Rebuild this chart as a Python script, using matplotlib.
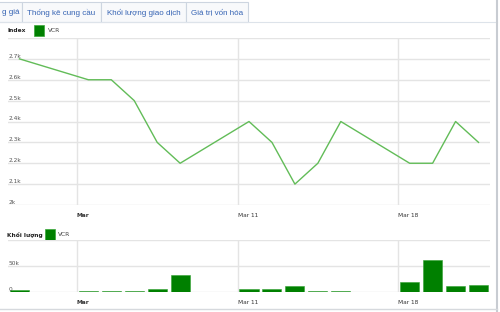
import matplotlib
matplotlib.use('Agg')
import matplotlib.pyplot as plt
from matplotlib.patches import Rectangle

# trading days in March (day of month) and VCR values
days = [1, 4, 5, 6, 7, 8, 11, 12, 13, 14, 15, 18, 19, 20, 21]
index_vals = [2700, 2600, 2600, 2500, 2300, 2200, 2400, 2300, 2100, 2200, 2400, 2200, 2200, 2400, 2300]
volume_vals = [4000, 2500, 1000, 2000, 6000, 33000, 5000, 6000, 11000, 1000, 1000, 19000, 61000, 11000, 13000]

index_ticks = [2000, 2100, 2200, 2300, 2400, 2500, 2600, 2700, 2800]
index_labels = ['2k', '2.1k', '2.2k', '2.3k', '2.4k', '2.5k', '2.6k', '2.7k', '']
vol_ticks = [0, 50000, 100000]
vol_labels = ['0', '50k', '']
week_ticks = [4, 11, 18]
week_labels = ['Mar', 'Mar 11', 'Mar 18']
tabs = ['g giá', 'Thống kê cung cầu', 'Khối lượng giao dịch', 'Giá trị vốn hóa']

W, H = 500, 312
fig = plt.figure(figsize=(5, 3.12), dpi=100)
fig.patch.set_facecolor('white')

# background layer in pixel coords (tabs, legends, frame)
bg = fig.add_axes([0, 0, 1, 1])
bg.set_xlim(0, W)
bg.set_ylim(H, 0)
bg.axis('off')

tab_edges = [-5, 22, 101, 186, 248]
for i, t in enumerate(tabs):
    x0, x1 = tab_edges[i], tab_edges[i + 1]
    bg.add_patch(Rectangle((x0, 2), x1 - x0, 20, facecolor='#f8f9fb', edgecolor='#cdd5e0', lw=0.8))
    if i == 0:
        bg.text(x1 - 3, 12.5, t, ha='right', va='center', fontsize=5.8, color='#3563b3', family='Liberation Sans')
    else:
        bg.text((x0 + x1) / 2, 12.5, t, ha='center', va='center', fontsize=5.8, color='#3563b3', family='Liberation Sans')
bg.plot([0, 497], [22, 22], color='#dde3ea', lw=0.8)
bg.plot([497, 497], [0, H], color='#c8ccd2', lw=1.5)
bg.plot([0, 497], [309, 309], color='#d6d9dd', lw=1.0)

# legends
bg.text(7, 31, 'Index', fontsize=4.2, fontweight='bold', color='#222', va='center')
bg.add_patch(Rectangle((34, 25), 10, 11, facecolor='#008000', edgecolor='#3aa83a', lw=0.5))
bg.text(48, 31, 'VCR', fontsize=4.2, color='#444', va='center')
bg.text(7, 235, 'Khối lượng', fontsize=4.2, fontweight='bold', color='#222', va='center')
bg.add_patch(Rectangle((45, 229), 10, 11, facecolor='#008000', edgecolor='#3aa83a', lw=0.5))
bg.text(58, 235, 'VCR', fontsize=4.2, color='#444', va='center')

grid_c = '#e4e4e4'
x_line = [d + 0.5 for d in days]


def style_axes(ax, yticks, ylabels, ylim):
    ax.set_xlim(1, 22)
    ax.set_ylim(*ylim)
    ax.set_facecolor('none')
    for s in ax.spines.values():
        s.set_visible(False)
    ax.set_yticks(yticks)
    ax.set_yticklabels([])
    ax.set_xticks(week_ticks)
    ax.set_xticklabels(week_labels, fontsize=4.2, color='#333', ha='left')
    ax.get_xticklabels()[0].set_fontweight('bold')
    ax.tick_params(length=0, pad=6)
    ax.grid(True, color=grid_c, lw=1.0)
    ax.set_axisbelow(True)
    for v, lab in zip(yticks, ylabels):
        ax.text(0.002, v, lab, transform=ax.get_yaxis_transform(), fontsize=4.2,
                color='#555', va='bottom', ha='left')


ax1 = fig.add_axes([8 / W, 1 - 205 / H, 482 / W, 167 / H])
ax1.plot(x_line, index_vals, color='#62bc58', lw=1.0)
style_axes(ax1, index_ticks, index_labels, (2000, 2800))

ax2 = fig.add_axes([8 / W, 1 - 292 / H, 482 / W, 52 / H])
ax2.bar(x_line, volume_vals, width=0.83, color='#008000', edgecolor='#33a133', lw=0.4)
style_axes(ax2, vol_ticks, vol_labels, (0, 100000))

fig.savefig('out.png', dpi=100)
